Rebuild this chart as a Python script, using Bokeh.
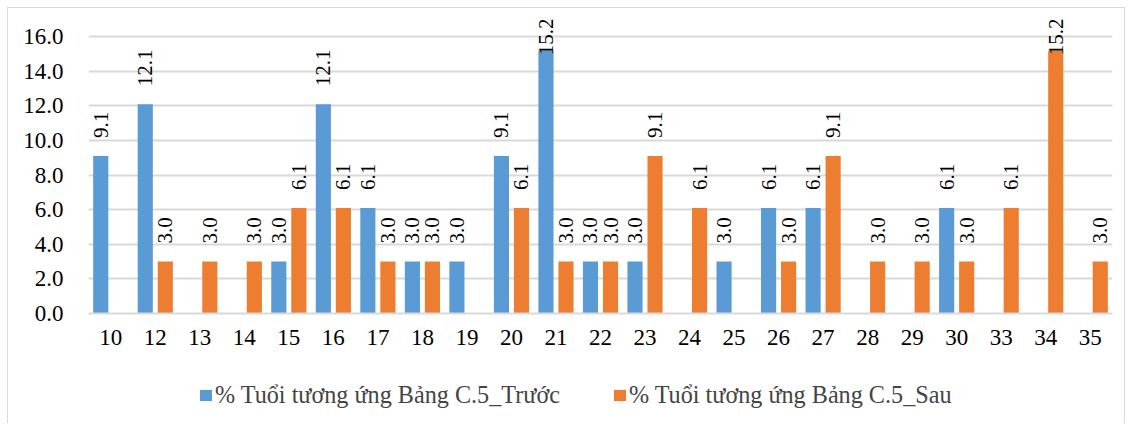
from bokeh.plotting import figure
from bokeh.models import (ColumnDataSource, FactorRange, Range1d, FixedTicker, Legend, LegendItem,
                          CustomJSTickFormatter)
from bokeh.layouts import column
from bokeh.transform import dodge
from bokeh.core.properties import value
from bokeh.embed import file_html
from bokeh.resources import INLINE
import math

ages = ["10", "12", "13", "14", "15", "16", "17", "18", "19", "20", "21", "22",
        "23", "24", "25", "26", "27", "28", "29", "30", "33", "34", "35"]
truoc = [9.1, 12.1, 0, 0, 3.0, 12.1, 6.1, 3.0, 3.0, 9.1, 15.2, 3.0,
         3.0, 0, 3.0, 6.1, 6.1, 0, 0, 6.1, 0, 0, 0]
sau = [0, 3.0, 3.0, 3.0, 6.1, 6.1, 3.0, 3.0, 0, 6.1, 3.0, 3.0,
       9.1, 6.1, 0, 3.0, 9.1, 3.0, 3.0, 3.0, 6.1, 15.2, 3.0]
y_ticks = [0, 2, 4, 6, 8, 10, 12, 14, 16]
name_truoc = "% Tuổi tương ứng Bảng C.5_Trước"
name_sau = "% Tuổi tương ứng Bảng C.5_Sau"

BLUE = "#5B9BD5"
ORANGE = "#ED7D31"
GRID = "#D9D9D9"
FONT = "Liberation Serif"

W, H = 1116, 357
top_b, bot_b, left_b, right_b = 4, 52, 80, 12
Y_END = 17.4
frame_h = H - top_b - bot_b
ppu = frame_h / Y_END

p = figure(width=W, height=H, x_range=FactorRange(*ages), y_range=Range1d(0, Y_END),
           output_backend="svg", toolbar_location=None,
           min_border_top=top_b, min_border_bottom=bot_b,
           min_border_left=left_b, min_border_right=right_b)
p.outline_line_color = None
p.background_fill_color = "white"
p.border_fill_color = "white"

src = ColumnDataSource(dict(x=ages, truoc=truoc, sau=sau))
OFF = 0.225
BW = 0.34
r1 = p.vbar(x=dodge("x", -OFF, range=p.x_range), top="truoc", width=BW, source=src,
            fill_color=BLUE, line_color=None)
r2 = p.vbar(x=dodge("x", OFF, range=p.x_range), top="sau", width=BW, source=src,
            fill_color=ORANGE, line_color=None)

# data labels
GAP = 18
FS = 21
def add_labels(vals, off):
    norm_x, norm_y, norm_t = [], [], []
    cl_x, cl_t = [], []
    for a, v in zip(ages, vals):
        if v == 0:
            continue
        t = f"{v:.1f}"
        tlen = len(t) * 0.5 * FS - 0.25 * FS
        if v + (GAP + tlen) / ppu > Y_END - 0.1:
            cl_x.append(a); cl_t.append(t)
        else:
            norm_x.append(a); norm_y.append(v); norm_t.append(t)
    s1 = ColumnDataSource(dict(x=norm_x, y=norm_y, t=norm_t))
    p.text(x=dodge("x", off, range=p.x_range), y="y", text="t", source=s1,
           angle=math.pi / 2, text_align="left", text_baseline="middle",
           y_offset=-GAP, text_font=value(FONT), text_font_size=f"{FS}px",
           text_color="black")
    s2 = ColumnDataSource(dict(x=cl_x, y=[Y_END] * len(cl_x), t=cl_t))
    p.text(x=dodge("x", off, range=p.x_range), y="y", text="t", source=s2,
           angle=math.pi / 2, text_align="right", text_baseline="middle",
           y_offset=6, text_font=value(FONT), text_font_size=f"{FS}px",
           text_color="black")

add_labels(truoc, -OFF)
add_labels(sau, OFF)

# axes
p.yaxis.ticker = FixedTicker(ticks=y_ticks)
p.yaxis.formatter = CustomJSTickFormatter(code="return tick.toFixed(1);")
p.yaxis.axis_line_color = None
p.yaxis.major_tick_line_color = None
p.yaxis.minor_tick_line_color = None
p.yaxis.major_label_text_font = FONT
p.yaxis.major_label_text_font_size = "23px"
p.yaxis.major_label_text_color = "black"
p.yaxis.major_label_standoff = 19

p.xaxis.axis_line_color = GRID
p.xaxis.axis_line_width = 2
p.xaxis.major_tick_line_color = None
p.xaxis.minor_tick_line_color = None
p.xaxis.major_label_text_font = FONT
p.xaxis.major_label_text_font_size = "23px"
p.xaxis.major_label_text_color = "black"
p.xaxis.major_label_standoff = 10

p.xgrid.grid_line_color = None
p.ygrid.grid_line_color = GRID
p.ygrid.grid_line_width = 2
p.x_range.range_padding = 0
p.x_range.group_padding = 0

# legend figure below the chart
LH = 58
lp = figure(width=W, height=LH, x_range=Range1d(0, 1), y_range=Range1d(0, 1),
            output_backend="svg", toolbar_location=None,
            min_border=0, min_border_left=0, min_border_right=0,
            min_border_top=0, min_border_bottom=0)
lp.axis.visible = False
lp.grid.visible = False
lp.outline_line_color = None
lp.background_fill_color = "white"
lp.border_fill_color = "white"
# legend swatches: one square each, placed outside the visible range
sw = ColumnDataSource(dict(l=[5], r=[6], b=[5], t=[6]))
g1 = lp.quad(left="l", right="r", bottom="b", top="t", source=sw,
             fill_color=BLUE, line_color=None)
g2 = lp.quad(left="l", right="r", bottom="b", top="t", source=sw,
             fill_color=ORANGE, line_color=None)
legend = Legend(items=[LegendItem(label=name_truoc, renderers=[g1]),
                       LegendItem(label=name_sau, renderers=[g2])],
                orientation="horizontal", location=(110, 14),
                label_text_font=FONT, label_text_font_size="24.2px",
                glyph_width=15, glyph_height=14, spacing=52, label_standoff=2,
                border_line_color=None, background_fill_alpha=0,
                margin=0, padding=6)
lp.add_layout(legend, "center")

layout = column(p, lp, spacing=0)
layout.styles = {"margin-left": "7px", "margin-top": "7px",
                 "border": "1px solid #D9D9D9", "border-bottom": "none"}

open("out.html", "w").write(file_html(layout, INLINE))
